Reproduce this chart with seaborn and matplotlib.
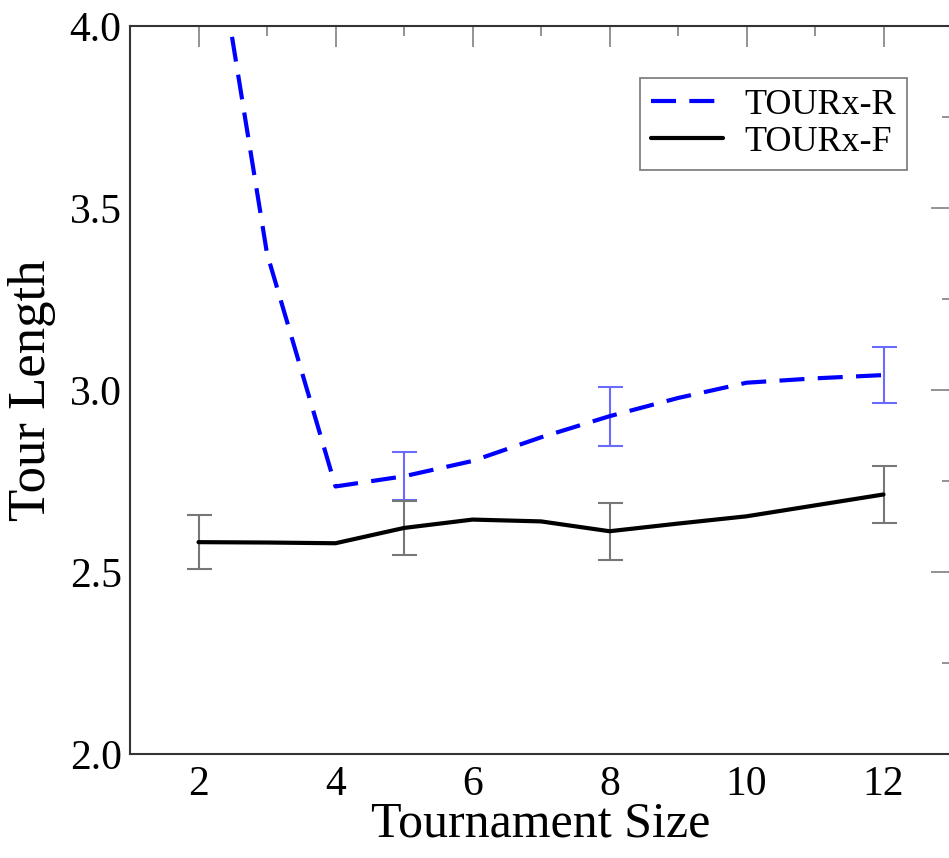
import numpy as np
import pandas as pd
import seaborn as sns
import matplotlib
matplotlib.use("Agg")
import matplotlib.pyplot as plt
from matplotlib.ticker import MultipleLocator

# Tournament sizes and mean tour lengths for the two variants
sizes = [2, 3, 4, 5, 6, 7, 8, 9, 10, 11, 12]
tour_r = [4.54, 3.375, 2.735, 2.763, 2.805, 2.870, 2.928, 2.978, 3.020, 3.032, 3.041]
tour_f = [2.582, 2.581, 2.579, 2.621, 2.644, 2.639, 2.612, 2.633, 2.653, 2.683, 2.713]

# Error bars (half-widths) at selected sizes
err_r_sizes = [5, 8, 12]
err_r = [0.066, 0.081, 0.078]
err_f_sizes = [2, 5, 8, 12]
err_f = [0.074, 0.073, 0.078, 0.078]

series_names = ["TOURx-R", "TOURx-F"]

sns.set_style("white")
plt.rcParams["font.family"] = ["Liberation Serif", "DejaVu Serif"]
plt.rcParams["text.color"] = "black"
plt.rcParams["axes.labelcolor"] = "black"

df = pd.DataFrame({
    "size": sizes * 2,
    "length": tour_r + tour_f,
    "series": [series_names[0]] * len(sizes) + [series_names[1]] * len(sizes),
})

W, H = 949, 858
fig = plt.figure(figsize=(W / 100, H / 100), dpi=100)
ax = fig.add_axes([130 / W, (H - 754) / H, 822 / W, (754 - 26) / H])

sns.lineplot(
    data=df, x="size", y="length", hue="series", style="series",
    palette={"TOURx-R": "#0000ff", "TOURx-F": "#000000"},
    dashes={"TOURx-R": (6, 3.2), "TOURx-F": ""},
    linewidth=3.0, ax=ax, legend=False, zorder=3,
)
for line, name in zip(ax.lines, series_names):
    line.set_label(name)

lookup_r = dict(zip(sizes, tour_r))
lookup_f = dict(zip(sizes, tour_f))
ax.errorbar(err_r_sizes, [lookup_r[s] for s in err_r_sizes], yerr=err_r,
            fmt="none", ecolor="#6a6aff", elinewidth=1.5, capsize=9, capthick=1.5, zorder=2)
ax.errorbar(err_f_sizes, [lookup_f[s] for s in err_f_sizes], yerr=err_f,
            fmt="none", ecolor="#777777", elinewidth=1.5, capsize=9, capthick=1.5, zorder=2)

ax.set_xlim(1, 13)
ax.set_ylim(2.0, 4.0)
ax.xaxis.set_major_locator(MultipleLocator(2))
ax.xaxis.set_minor_locator(MultipleLocator(1))
ax.yaxis.set_major_locator(MultipleLocator(0.5))
ax.yaxis.set_minor_locator(MultipleLocator(0.25))
ax.yaxis.set_major_formatter(matplotlib.ticker.FormatStrFormatter("%.1f"))

ax.tick_params(which="both", direction="in", top=True, right=True,
               color="#8a8a8a", width=1.3, labelsize=30, labelcolor="black")
ax.tick_params(which="major", length=15, pad=6)
ax.tick_params(which="minor", length=7.5)
ax.tick_params(axis="x", which="major", pad=8)

for sp in ax.spines.values():
    sp.set_color("#333333")
    sp.set_linewidth(1.5)

ax.set_xlabel("Tournament Size", fontsize=36, labelpad=-2)
ax.set_ylabel("Tour Length", fontsize=38, labelpad=10)

leg = ax.legend(
    loc="upper right", bbox_to_anchor=(0.945, 0.9286), borderaxespad=0,
    fontsize=26, frameon=True, fancybox=False, edgecolor="#555555",
    handlelength=2.0, handletextpad=0.6, borderpad=0.3, labelspacing=0.1,
)
leg.get_frame().set_linewidth(1.2)

fig.savefig("out.png", dpi=100, facecolor="white")
